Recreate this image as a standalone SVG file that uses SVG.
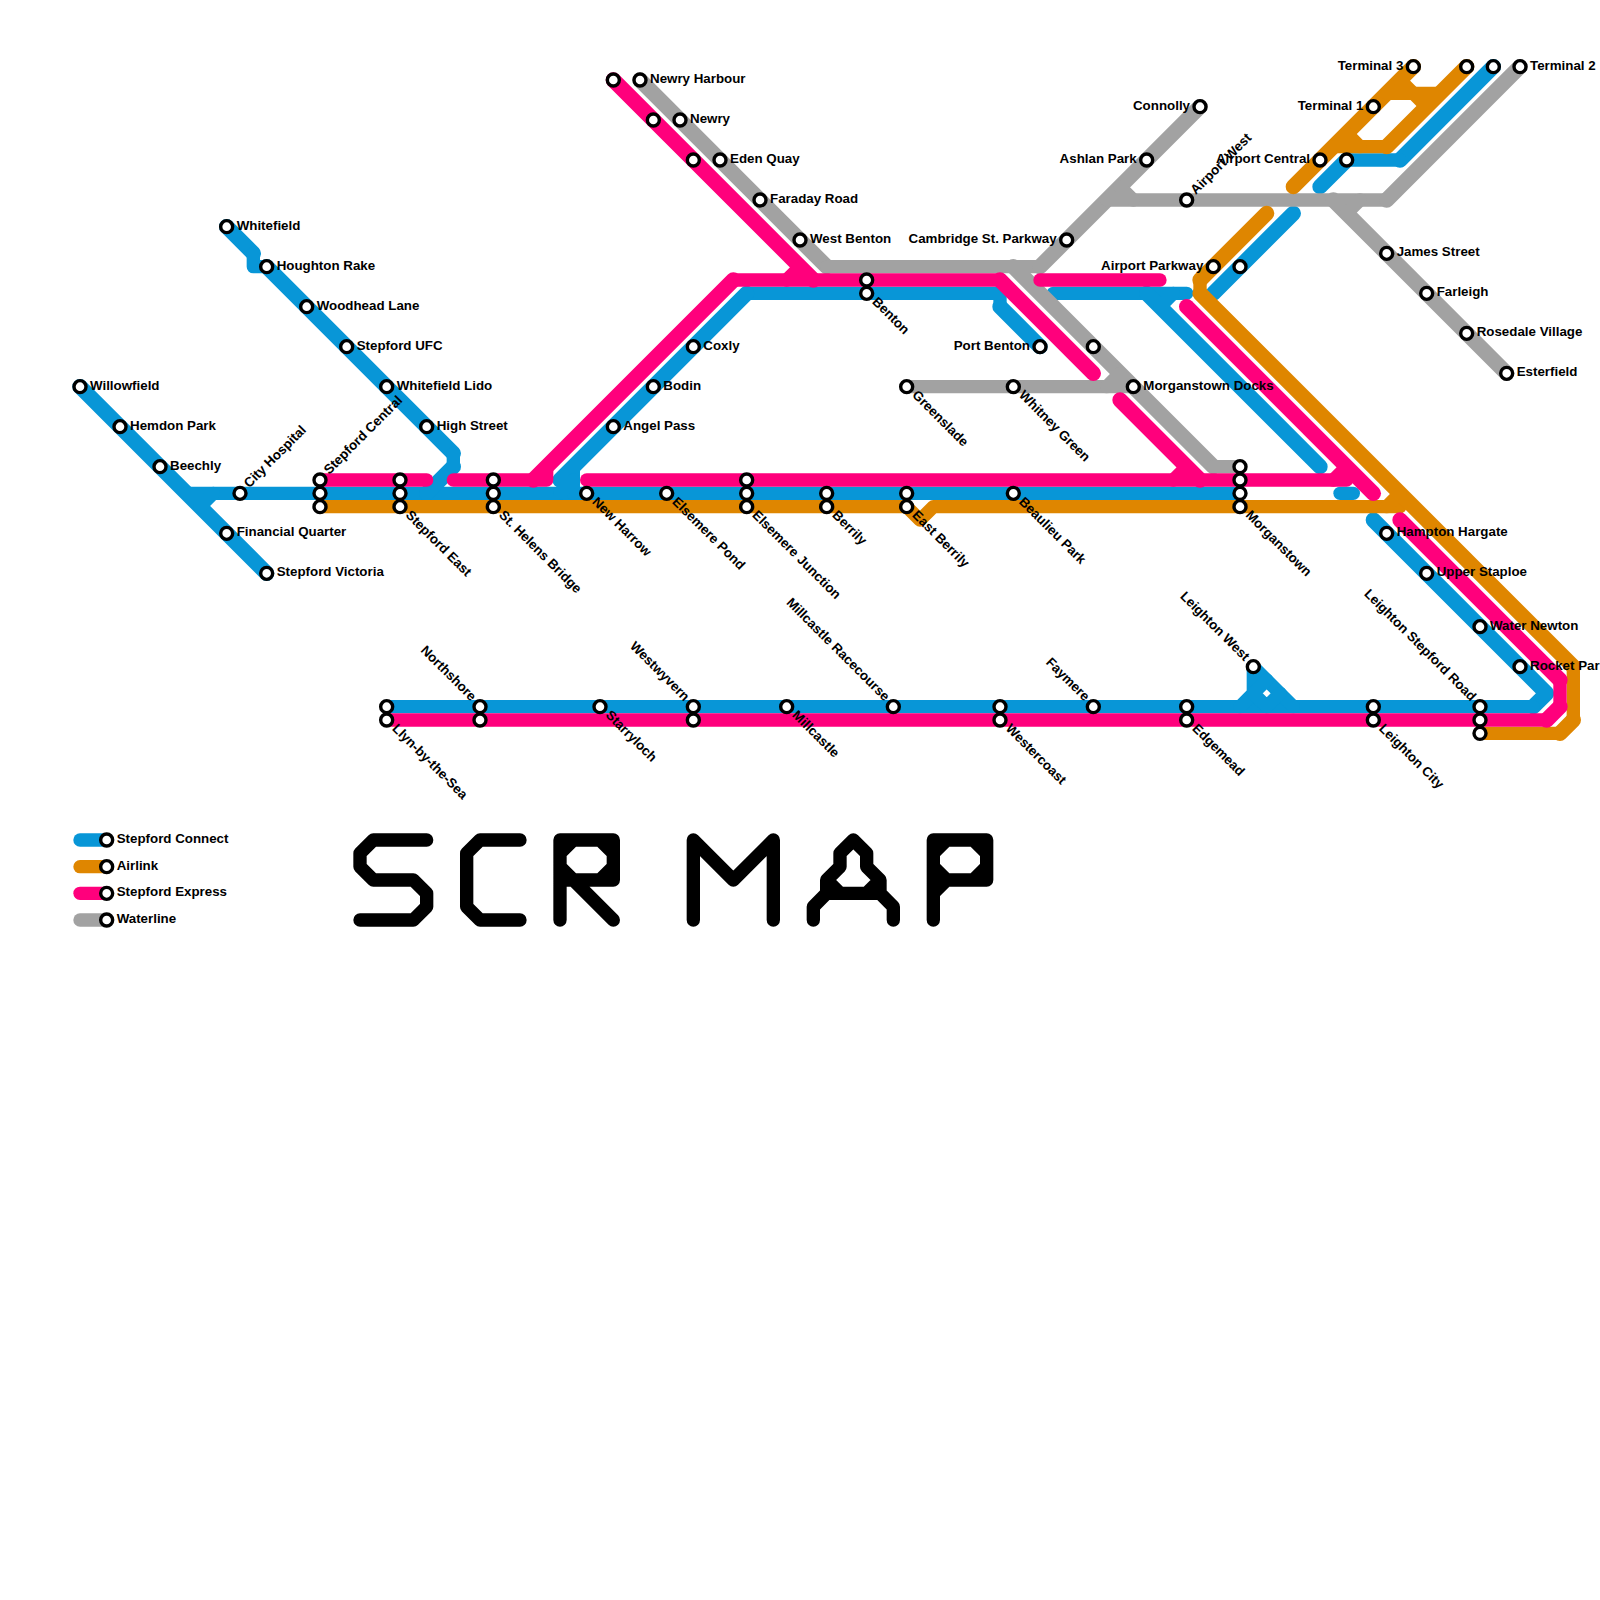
<svg xmlns="http://www.w3.org/2000/svg" width="1600" height="1600" viewBox="0 0 1600 1600">
<style>
.bg{fill:#fff}
#connectors path{fill:none;stroke-width:1;stroke-linecap:round;stroke-linejoin:round}
#connectors path.d{stroke-width:1.15}
.blue path{stroke:#0896d7}.gray path{stroke:#a2a2a2}.orange path{stroke:#df8600}.pink path{stroke:#ff007c}
#title path{fill:none;stroke:#000;stroke-width:1;stroke-linecap:round;stroke-linejoin:round}
circle{r:6px;fill:#fff;stroke:#000;stroke-width:3.4px}
text{font-family:"Liberation Sans",Arial,sans-serif;font-weight:700;font-size:13.33px;fill:#000}
.l{text-anchor:end}
</style>
<rect class="bg" width="1600" height="1600"/>
<g id="connectors" transform="scale(13.33333)">
<g class="blue">
<path class="d" d="M6 29L20 43"/>
<path d="M14 37H93"/>
<path d="M15 38L16 37"/>
<path class="d" d="M17 17L19 19M20 20L34 34M34 35L32 37"/>
<path d="M19 19V20H20M34 34V35"/>
<path d="M43 37V35M56 22H75V23M42 36H43"/>
<path class="d" d="M42 36L56 22M75 23L78 26"/>
<path d="M42 37L43 36"/>
<path d="M79 22H89"/>
<path class="d" d="M86 22L99 35"/>
<path d="M87 23L88 22"/>
<path class="d" d="M97 16L91 22"/>
<path d="M100.5 37H101.5"/>
<path class="d" d="M112 5L105 12M101 12L99 14"/>
<path d="M105 12H101"/>
<path class="d" d="M103 39L116 52L115 53"/>
<path d="M115 53H29"/>
<path d="M93 53L94 52V50L97 53"/>
<path d="M95 51L94 52L95 53L96 52"/>
</g>
<g class="gray">
<path class="d" d="M48 6L62 20M76 20L91 35"/>
<path d="M62 20H78M91 35H93"/>
<path class="d" d="M78 20L90 8"/>
<path d="M83 15H104"/>
<path class="d" d="M104 15L114 5"/>
<path d="M84 14L85 15"/>
<path class="d" d="M100 15L113 28"/>
<path d="M101 16L102 15"/>
<path d="M68 29H85"/>
<path d="M83 29L84 28"/>
</g>
<g class="orange">
<path d="M24 38H68L69 39L70 38H105"/>
<path class="d" d="M95 16L90 21M90 22L118 50M118 54L117 55"/>
<path d="M90 21V22M118 50V54M117 55H111"/>
<path d="M104 38L105 37"/>
<path class="d" d="M97 14L106 5"/>
<path d="M100 11H104"/>
<path class="d" d="M104 11L110 5"/>
<path d="M101 10L102 11"/>
<path d="M104 7H108"/>
<path d="M105 6L107 8"/>
</g>
<g class="pink">
<path d="M24 36H32"/>
<path d="M34 36H41V35M55 21H75"/>
<path class="d" d="M40 36L55 21M75 21L82 28"/>
<path class="d" d="M46 6L61 21"/>
<path d="M60 20L59 21"/>
<path d="M78 21H87"/>
<path class="d" d="M84 30L90 36"/>
<path d="M89 35L88 36"/>
<path d="M44 36H101"/>
<path class="d" d="M89 23L103 37"/>
<path d="M101 35L100 36"/>
<path class="d" d="M105 39L117 51M117 53L116 54"/>
<path d="M117 51V53M116 54H29"/>
</g>
<g id="legend-lines">
<g class="blue"><path d="M6 63H8"/></g>
<g class="orange"><path d="M6 65H8"/></g>
<g class="pink"><path d="M6 67H8"/></g>
<g class="gray"><path d="M6 69H8"/></g>
</g>
</g>
<g id="title" transform="scale(13.33333)">
<path d="M32 63H28L27 64V65L28 66H31L32 67V68L31 69H27"/>
<path d="M39 63H36L35 64V68L36 69H39"/>
<path d="M42 69V63H46V66H42M43 66L46 69M42 64L43 63M45 63L46 64M42 65L43 66M45 66L46 65"/>
<path d="M52 69V63L55 66L58 63V69"/>
<path d="M61 69V68L62 67V66L63 65V64L64 63L65 64V65L66 66V67L67 68V69M62 67H66M62 66L63 67M66 66L65 67"/>
<path d="M70 69V63H74V66H70M70 64L71 63M73 63L74 64M70 65L71 66M70 67L71 66M73 66L74 65"/>
</g>
<g id="s-whitefield" transform="translate(226.67 226.67)"><circle/><text x="10" y="3">Whitefield</text></g>
<g id="s-houghton-rake" transform="translate(266.67 266.67)"><circle/><text x="10" y="3">Houghton Rake</text></g>
<g id="s-woodhead-lane" transform="translate(306.67 306.67)"><circle/><text x="10" y="3">Woodhead Lane</text></g>
<g id="s-stepford-ufc" transform="translate(346.67 346.67)"><circle/><text x="10" y="3">Stepford UFC</text></g>
<g id="s-whitefield-lido" transform="translate(386.67 386.67)"><circle/><text x="10" y="3">Whitefield Lido</text></g>
<g id="s-high-street" transform="translate(426.67 426.67)"><circle/><text x="10" y="3">High Street</text></g>
<g id="s-willowfield" transform="translate(80 386.67)"><circle/><text x="10" y="3">Willowfield</text></g>
<g id="s-hemdon-park" transform="translate(120 426.67)"><circle/><text x="10" y="3">Hemdon Park</text></g>
<g id="s-beechly" transform="translate(160 466.67)"><circle/><text x="10" y="3">Beechly</text></g>
<g id="s-city-hospital" transform="translate(240 493.33)"><circle/><text x="10" y="3" transform="rotate(-45)">City Hospital</text></g>
<g id="s-financial-quarter" transform="translate(226.67 533.33)"><circle/><text x="10" y="3">Financial Quarter</text></g>
<g id="s-stepford-victoria" transform="translate(266.67 573.33)"><circle/><text x="10" y="3">Stepford Victoria</text></g>
<g id="s-stepford-central" transform="translate(320 480)"><circle/><circle cy="13.33"/><circle cy="26.67"/><text x="10" y="3" transform="rotate(-45)">Stepford Central</text></g>
<g id="s-stepford-east" transform="translate(400 506.67)"><circle cy="-26.67"/><circle cy="-13.33"/><circle/><text x="10" y="3" transform="rotate(45)">Stepford East</text></g>
<g id="s-st-helens-bridge" transform="translate(493.33 506.67)"><circle cy="-26.67"/><circle cy="-13.33"/><circle/><text x="10" y="3" transform="rotate(45)">St. Helens Bridge</text></g>
<g id="s-new-harrow" transform="translate(586.67 493.33)"><circle/><text x="10" y="3" transform="rotate(45)">New Harrow</text></g>
<g id="s-elsemere-pond" transform="translate(666.67 493.33)"><circle/><text x="10" y="3" transform="rotate(45)">Elsemere Pond</text></g>
<g id="s-elsemere-junction" transform="translate(746.67 506.67)"><circle cy="-26.67"/><circle cy="-13.33"/><circle/><text x="10" y="3" transform="rotate(45)">Elsemere Junction</text></g>
<g id="s-berrily" transform="translate(826.67 506.67)"><circle cy="-13.33"/><circle/><text x="10" y="3" transform="rotate(45)">Berrily</text></g>
<g id="s-east-berrily" transform="translate(906.67 506.67)"><circle cy="-13.33"/><circle/><text x="10" y="3" transform="rotate(45)">East Berrily</text></g>
<g id="s-beaulieu-park" transform="translate(1013.33 493.33)"><circle/><text x="10" y="3" transform="rotate(45)">Beaulieu Park</text></g>
<g id="s-morganstown" transform="translate(1240 506.67)"><circle cy="-40"/><circle cy="-26.67"/><circle cy="-13.33"/><circle/><text x="10" y="3" transform="rotate(45)">Morganstown</text></g>
<g id="s-benton" transform="translate(866.67 293.33)"><circle cy="-13.33"/><circle/><text x="10" y="3" transform="rotate(45)">Benton</text></g>
<g id="s-angel-pass" transform="translate(613.33 426.67)"><circle/><text x="10" y="3">Angel Pass</text></g>
<g id="s-bodin" transform="translate(653.33 386.67)"><circle/><text x="10" y="3">Bodin</text></g>
<g id="s-coxly" transform="translate(693.33 346.67)"><circle/><text x="10" y="3">Coxly</text></g>
<g id="s-pink-46-6" transform="translate(613.33 80)"><circle/></g>
<g id="s-pink-49-9" transform="translate(653.33 120)"><circle/></g>
<g id="s-pink-52-12" transform="translate(693.33 160)"><circle/></g>
<g id="s-newry-harbour" transform="translate(640 80)"><circle/><text x="10" y="3">Newry Harbour</text></g>
<g id="s-newry" transform="translate(680 120)"><circle/><text x="10" y="3">Newry</text></g>
<g id="s-eden-quay" transform="translate(720 160)"><circle/><text x="10" y="3">Eden Quay</text></g>
<g id="s-faraday-road" transform="translate(760 200)"><circle/><text x="10" y="3">Faraday Road</text></g>
<g id="s-west-benton" transform="translate(800 240)"><circle/><text x="10" y="3">West Benton</text></g>
<g id="s-cambridge-st-parkway" transform="translate(1066.67 240)"><circle/><text class="l" x="-10" y="3">Cambridge St. Parkway</text></g>
<g id="s-ashlan-park" transform="translate(1146.67 160)"><circle/><text class="l" x="-10" y="3">Ashlan Park</text></g>
<g id="s-connolly" transform="translate(1200 106.67)"><circle/><text class="l" x="-10" y="3">Connolly</text></g>
<g id="s-airport-west" transform="translate(1186.67 200)"><circle/><text x="10" y="3" transform="rotate(-45)">Airport West</text></g>
<g id="s-airport-central" transform="translate(1320 160)"><circle/><text class="l" x="-10" y="3">Airport Central</text></g>
<g id="s-blue-101-12" transform="translate(1346.67 160)"><circle/></g>
<g id="s-terminal-1" transform="translate(1373.33 106.67)"><circle/><text class="l" x="-10" y="3">Terminal 1</text></g>
<g id="s-terminal-3" transform="translate(1413.33 66.67)"><circle/><text class="l" x="-10" y="3">Terminal 3</text></g>
<g id="s-orange-110-5" transform="translate(1466.67 66.67)"><circle/></g>
<g id="s-blue-112-5" transform="translate(1493.33 66.67)"><circle/></g>
<g id="s-terminal-2" transform="translate(1520 66.67)"><circle/><text x="10" y="3">Terminal 2</text></g>
<g id="s-airport-parkway" transform="translate(1213.33 266.67)"><circle/><text class="l" x="-10" y="3">Airport Parkway</text></g>
<g id="s-blue-93-20" transform="translate(1240 266.67)"><circle/></g>
<g id="s-james-street" transform="translate(1386.67 253.33)"><circle/><text x="10" y="3">James Street</text></g>
<g id="s-farleigh" transform="translate(1426.67 293.33)"><circle/><text x="10" y="3">Farleigh</text></g>
<g id="s-rosedale-village" transform="translate(1466.67 333.33)"><circle/><text x="10" y="3">Rosedale Village</text></g>
<g id="s-esterfield" transform="translate(1506.67 373.33)"><circle/><text x="10" y="3">Esterfield</text></g>
<g id="s-port-benton" transform="translate(1040 346.67)"><circle/><text class="l" x="-10" y="3">Port Benton</text></g>
<g id="s-gray-82-26" transform="translate(1093.33 346.67)"><circle/></g>
<g id="s-greenslade" transform="translate(906.67 386.67)"><circle/><text x="10" y="3" transform="rotate(45)">Greenslade</text></g>
<g id="s-whitney-green" transform="translate(1013.33 386.67)"><circle/><text x="10" y="3" transform="rotate(45)">Whitney Green</text></g>
<g id="s-morganstown-docks" transform="translate(1133.33 386.67)"><circle/><text x="10" y="3">Morganstown Docks</text></g>
<g id="s-hampton-hargate" transform="translate(1386.67 533.33)"><circle/><text x="10" y="3">Hampton Hargate</text></g>
<g id="s-upper-staploe" transform="translate(1426.67 573.33)"><circle/><text x="10" y="3">Upper Staploe</text></g>
<g id="s-water-newton" transform="translate(1480 626.67)"><circle/><text x="10" y="3">Water Newton</text></g>
<g id="s-rocket-park" transform="translate(1520 666.67)"><circle/><text x="10" y="3">Rocket Park</text></g>
<g id="s-leighton-west" transform="translate(1253.33 666.67)"><circle/><text class="l" x="-10" y="3" transform="rotate(45)">Leighton West</text></g>
<g id="s-llyn-by-the-sea" transform="translate(386.67 720)"><circle cy="-13.33"/><circle/><text x="10" y="3" transform="rotate(45)">Llyn-by-the-Sea</text></g>
<g id="s-northshore" transform="translate(480 706.67)"><circle/><circle cy="13.33"/><text class="l" x="-10" y="3" transform="rotate(45)">Northshore</text></g>
<g id="s-starryloch" transform="translate(600 706.67)"><circle/><text x="10" y="3" transform="rotate(45)">Starryloch</text></g>
<g id="s-westwyvern" transform="translate(693.33 706.67)"><circle/><circle cy="13.33"/><text class="l" x="-10" y="3" transform="rotate(45)">Westwyvern</text></g>
<g id="s-millcastle" transform="translate(786.67 706.67)"><circle/><text x="10" y="3" transform="rotate(45)">Millcastle</text></g>
<g id="s-millcastle-racecourse" transform="translate(893.33 706.67)"><circle/><text class="l" x="-10" y="3" transform="rotate(45)">Millcastle Racecourse</text></g>
<g id="s-westercoast" transform="translate(1000 720)"><circle cy="-13.33"/><circle/><text x="10" y="3" transform="rotate(45)">Westercoast</text></g>
<g id="s-faymere" transform="translate(1093.33 706.67)"><circle/><text class="l" x="-10" y="3" transform="rotate(45)">Faymere</text></g>
<g id="s-edgemead" transform="translate(1186.67 720)"><circle cy="-13.33"/><circle/><text x="10" y="3" transform="rotate(45)">Edgemead</text></g>
<g id="s-leighton-city" transform="translate(1373.33 720)"><circle cy="-13.33"/><circle/><text x="10" y="3" transform="rotate(45)">Leighton City</text></g>
<g id="s-leighton-stepford-road" transform="translate(1480 706.67)"><circle/><circle cy="13.33"/><circle cy="26.67"/><text class="l" x="-10" y="3" transform="rotate(45)">Leighton Stepford Road</text></g>
<g id="legend">
<g id="legend-connect" transform="translate(106.67 840)"><circle/><text x="10" y="3">Stepford Connect</text></g>
<g id="legend-airlink" transform="translate(106.67 866.67)"><circle/><text x="10" y="3">Airlink</text></g>
<g id="legend-express" transform="translate(106.67 893.33)"><circle/><text x="10" y="3">Stepford Express</text></g>
<g id="legend-waterline" transform="translate(106.67 920)"><circle/><text x="10" y="3">Waterline</text></g>
</g>
</svg>
